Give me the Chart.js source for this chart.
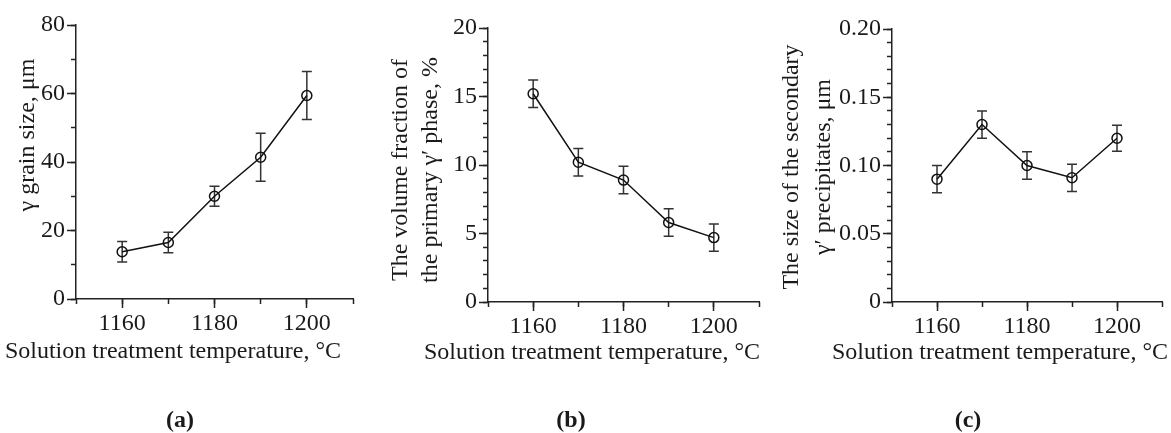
<!DOCTYPE html>
<html>
<head>
<meta charset="utf-8">
<script src="https://cdn.jsdelivr.net/npm/chart.js@4"></script>
<style>
  body { margin: 0; background: #fff; width: 1171px; height: 433px; position: relative; overflow: hidden; }
  canvas { position: absolute; top: 0; }
</style>
</head>
<body>
<canvas id="chart-a" width="390" height="433" style="left:0px"></canvas>
<canvas id="chart-b" width="385" height="433" style="left:390px"></canvas>
<canvas id="chart-c" width="396" height="433" style="left:775px"></canvas>
<script>
// solution treatment temperature, °C
const temperatures = [1160, 1170, 1180, 1190, 1200];

// (a) gamma grain size, um
const grainSize = [13.8, 16.5, 30.0, 41.4, 59.4];
const grainErr = [3.0, 3.0, 2.9, 7.0, 7.0];

// (b) volume fraction of primary gamma', %
const primaryFraction = [15.2, 10.2, 8.9, 5.8, 4.7];
const primaryErr = [1.0, 1.0, 1.0, 1.0, 1.0];

// (c) size of secondary gamma' precipitates, um
const secondarySize = [0.090, 0.130, 0.100, 0.091, 0.120];
const secondaryErr = [0.010, 0.010, 0.010, 0.010, 0.0095];

const xTicks = [1160, 1180, 1200];
const yTicksA = [0, 20, 40, 60, 80];
const yTicksB = [0, 5, 10, 15, 20];
const yTicksC = [0, 0.05, 0.10, 0.15, 0.20];

const ink = '#1a1a1a';
const serif = '"Liberation Serif", "Times New Roman", serif';

const errorBars = {
  id: 'errorBars',
  beforeDatasetsDraw(chart, args, opts) {
    const { ctx, scales: { x, y } } = chart;
    const pts = chart.data.datasets[0].data;
    ctx.save();
    ctx.strokeStyle = '#333';
    ctx.lineWidth = 1.5;
    pts.forEach((p, i) => {
      const e = opts.errors[i];
      const px = x.getPixelForValue(p.x);
      const top = y.getPixelForValue(p.y + e);
      const bot = y.getPixelForValue(p.y - e);
      ctx.beginPath();
      ctx.moveTo(px, top); ctx.lineTo(px, bot);
      ctx.moveTo(px - 5, top); ctx.lineTo(px + 5, top);
      ctx.moveTo(px - 5, bot); ctx.lineTo(px + 5, bot);
      ctx.stroke();
    });
    ctx.restore();
  }
};

const panelText = {
  id: 'panelText',
  afterDraw(chart, args, o) {
    const ctx = chart.ctx;
    ctx.save();
    ctx.fillStyle = ink;
    ctx.font = '24px ' + serif;
    ctx.textAlign = 'center';
    ctx.textBaseline = 'alphabetic';
    o.yTitle.forEach((line, i) => {
      ctx.save();
      ctx.translate(o.yTitleX[i], o.yTitleY);
      ctx.rotate(-Math.PI / 2);
      ctx.fillText(line, 0, 0);
      ctx.restore();
    });
    ctx.fillText(o.xTitle, o.xTitleX, o.xTitleY);
    ctx.font = 'bold 24px ' + serif;
    ctx.fillText(o.caption, o.captionX, o.captionY);
    ctx.restore();
  }
};

function makeChart(id, values, errors, yMax, yTicks, yStep, fmt, box, text) {
  const axisFont = { family: serif, size: 24 };
  return new Chart(document.getElementById(id), {
    type: 'line',
    data: {
      datasets: [{
        data: temperatures.map((t, i) => ({ x: t, y: values[i] })),
        borderColor: '#111',
        borderWidth: 1.5,
        pointRadius: 5,
        pointBorderWidth: 1.5,
        pointBorderColor: '#111',
        pointBackgroundColor: 'rgba(0,0,0,0)',
        tension: 0,
        clip: false
      }]
    },
    options: {
      responsive: false,
      animation: false,
      layout: { padding: { left: 0, top: box.top, right: box.right, bottom: box.bottom } },
      plugins: {
        legend: { display: false },
        tooltip: { enabled: false },
        errorBars: { errors: errors },
        panelText: text
      },
      scales: {
        x: {
          type: 'linear', position: 'bottom', weight: 1,
          min: 1150, max: 1210,
          afterBuildTicks: s => { s.ticks = xTicks.map(v => ({ value: v })); },
          afterFit: s => { s.height = 40; },
          grid: { drawOnChartArea: false, tickLength: 9, tickWidth: 1.5, tickColor: '#222' },
          border: { color: '#222', width: 1.5 },
          ticks: { font: axisFont, color: ink, padding: 1, maxRotation: 0, autoSkip: false, callback: v => String(v) }
        },
        xMinor: {
          type: 'linear', position: 'bottom', weight: 0,
          min: 1150, max: 1210,
          afterFit: s => { s.height = 0; },
          grid: { drawOnChartArea: false, tickLength: 5, tickWidth: 1.5, tickColor: '#222' },
          border: { display: false },
          ticks: { display: false, stepSize: 10 }
        },
        y: {
          type: 'linear', position: 'left', weight: 1,
          min: 0, max: yMax,
          afterBuildTicks: s => { s.ticks = yTicks.map(v => ({ value: v })); },
          afterFit: s => { s.width = box.left; },
          grid: { drawOnChartArea: false, tickLength: 9, tickWidth: 1.5, tickColor: '#222' },
          border: { color: '#222', width: 1.5 },
          ticks: { font: axisFont, color: ink, padding: 2, callback: fmt }
        },
        yMinor: {
          type: 'linear', position: 'left', weight: 0,
          min: 0, max: yMax,
          afterFit: s => { s.width = 0; },
          grid: { drawOnChartArea: false, tickLength: 5, tickWidth: 1.5, tickColor: '#222' },
          border: { display: false },
          ticks: { display: false, stepSize: yStep }
        }
      }
    },
    plugins: [errorBars, panelText]
  });
}

const intFmt = v => String(v);

makeChart('chart-a', grainSize, grainErr, 80, yTicksA, 10, intFmt,
  { left: 76, top: 25, right: 37, bottom: 94 },
  { yTitle: ['\u03b3 grain size, \u03bcm'], yTitleX: [34], yTitleY: 135,
    xTitle: 'Solution treatment temperature, \u00b0C', xTitleX: 173, xTitleY: 358,
    caption: '(a)', captionX: 180, captionY: 427 });

makeChart('chart-b', primaryFraction, primaryErr, 20, yTicksB, 1, intFmt,
  { left: 98, top: 28, right: 16, bottom: 91 },
  { yTitle: ['The volume fraction of', 'the primary \u03b3\u2032 phase, %'], yTitleX: [17, 47], yTitleY: 170,
    xTitle: 'Solution treatment temperature, \u00b0C', xTitleX: 202, xTitleY: 359,
    caption: '(b)', captionX: 181, captionY: 427 });

makeChart('chart-c', secondarySize, secondaryErr, 0.20, yTicksC, 0.01,
  v => (v === 0 ? '0' : v.toFixed(2)),
  { left: 117, top: 29, right: 9, bottom: 91 },
  { yTitle: ['The size of the secondary', '\u03b3\u2032 precipitates, \u03bcm'], yTitleX: [23, 55], yTitleY: 167,
    xTitle: 'Solution treatment temperature, \u00b0C', xTitleX: 225, xTitleY: 359,
    caption: '(c)', captionX: 193, captionY: 427 });
</script>
</body>
</html>
